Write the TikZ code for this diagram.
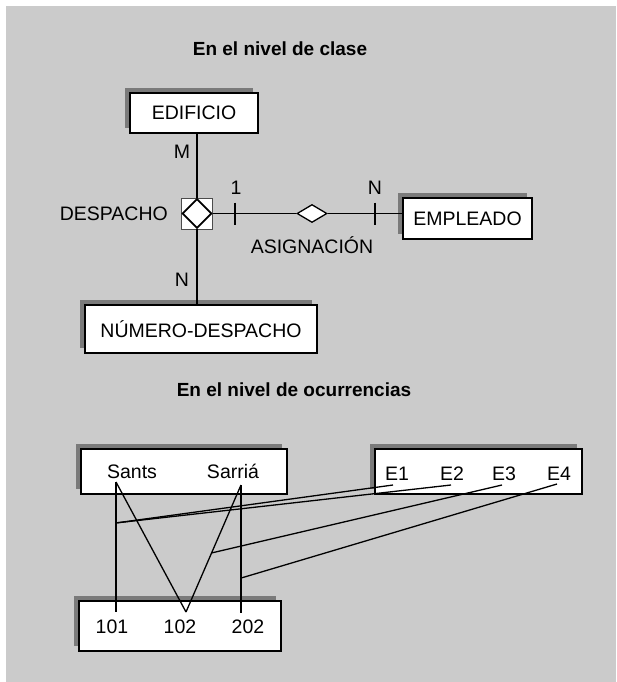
\documentclass[tikz,border=0pt]{standalone}
\usepackage{fontspec}
\setmainfont{Liberation Sans}
\usetikzlibrary{shapes.geometric,shadows,calc}
\definecolor{bg}{HTML}{CBCBCB}
\definecolor{shd}{HTML}{7A7A7A}
\begin{document}
\begin{tikzpicture}[x=1pt,y=-1pt,
  ent/.style={draw=black,line width=1.3pt,fill=white,inner sep=0pt,
    drop shadow={shadow xshift=-5pt,shadow yshift=5pt,opacity=1,fill=shd}},
  lbl/.style={font=\fontsize{19.5}{22}\selectfont,inner sep=0pt},
  ttl/.style={font=\fontsize{19}{22}\selectfont\bfseries,inner sep=0pt},
  con/.style={line width=1.3pt,black},
  tick/.style={line width=1.3pt,black}]
\useasboundingbox (0,0) rectangle (616,682);
\fill[bg] (6,6) rectangle (616,682);

% ---- class level ----
\node[ttl] (t1) at (280,49) {En el nivel de clase};

\node[ent,minimum width=128pt,minimum height=40pt,lbl] (edif) at (194,113) {EDIFICIO};
\node[ent,minimum width=129pt,minimum height=41pt,lbl] (emp) at (467.5,218.5) {EMPLEADO};
\node[ent,minimum width=232pt,minimum height=48pt,lbl] (num) at (201,329) {NÚMERO-DESPACHO};

\node[draw=black!70,line width=0.8pt,fill=white,minimum size=31pt,inner sep=0pt] (sq) at (197,213.5) {};
\draw[line width=1.8pt,fill=white] ($(sq.north)+(0,1.5)$) -- ($(sq.east)+(-1.5,0)$) -- ($(sq.south)+(0,-1.5)$) -- ($(sq.west)+(1.5,0)$) -- cycle;
\node[lbl,anchor=east] (despacho) at (168,213.5) {DESPACHO};

\draw[con] (edif.south -| sq.north) -- (sq.north);
\draw[con] (sq.south) -- (sq.south |- num.north);
\node[draw=black,line width=1.3pt,fill=white,shape=diamond,minimum width=30pt,minimum height=18pt,inner sep=0pt] (asig) at (312,213.5) {};
\draw[con] (sq.east) -- (asig.west);
\draw[con] (asig.east) -- (sq.east -| emp.west);
\coordinate (tk1) at (235,213.5);
\coordinate (tk2) at (375,213.5);
\draw[tick] ($(tk1)+(0,-11)$) -- ($(tk1)+(0,11)$);
\draw[tick] ($(tk2)+(0,-11)$) -- ($(tk2)+(0,11)$);

\node[lbl] (m) at (182,152) {M};
\node[lbl] (one) at (236,188) {1};
\node[lbl] (n1) at (375,188) {N};
\node[lbl] (asiglbl) at (312,245) {ASIGNACIÓN};
\node[lbl] (n2) at (182,280) {N};

% ---- occurrence level ----
\node[ttl] (t2) at (294,390) {En el nivel de ocurrencias};

\node[ent,minimum width=206pt,minimum height=45pt] (edbox) at (184,471.5) {};
\node[ent,minimum width=207pt,minimum height=45pt] (ebox) at (478.5,471.5) {};
\node[ent,minimum width=202pt,minimum height=50pt] (nbox) at (180,626) {};

\node[lbl,anchor=base] (sants) at (132,478) {Sants};
\node[lbl,anchor=base] (sarria) at (233,478) {Sarriá};
\node[lbl,anchor=base] (e1) at (397,480) {E1};
\node[lbl,anchor=base] (e2) at (452,480) {E2};
\node[lbl,anchor=base] (e3) at (504,480) {E3};
\node[lbl,anchor=base] (e4) at (559,480) {E4};
\node[lbl,anchor=base] (n101) at (112,633) {101};
\node[lbl,anchor=base] (n102) at (180,633) {102};
\node[lbl,anchor=base] (n202) at (248,633) {202};

\coordinate (sa) at (116,482);
\coordinate (sr) at (241,485);
\coordinate (a101) at (116,612);
\coordinate (a102) at (186,612);
\coordinate (a202) at (241,613);
\coordinate (ae1) at (393,485);
\coordinate (ae2) at (451,485);
\coordinate (ae3) at (502,485);
\coordinate (ae4) at (557,484);

\draw[con] (sa) -- (a101);
\draw[con] (sa) -- (a102);
\draw[con] (sr) -- (a102);
\draw[con] (sr) -- (a202);

\coordinate (p1) at ($(sa)!0.315!(a101)$);
\coordinate (p3) at ($(sr)!0.535!(a102)$);
\coordinate (p4) at ($(sr)!0.727!(a202)$);
\draw[con] (ae1) -- (p1);
\draw[con] (ae2) -- (p1);
\draw[con] (ae3) -- (p3);
\draw[con] (ae4) -- (p4);
\end{tikzpicture}
\end{document}
